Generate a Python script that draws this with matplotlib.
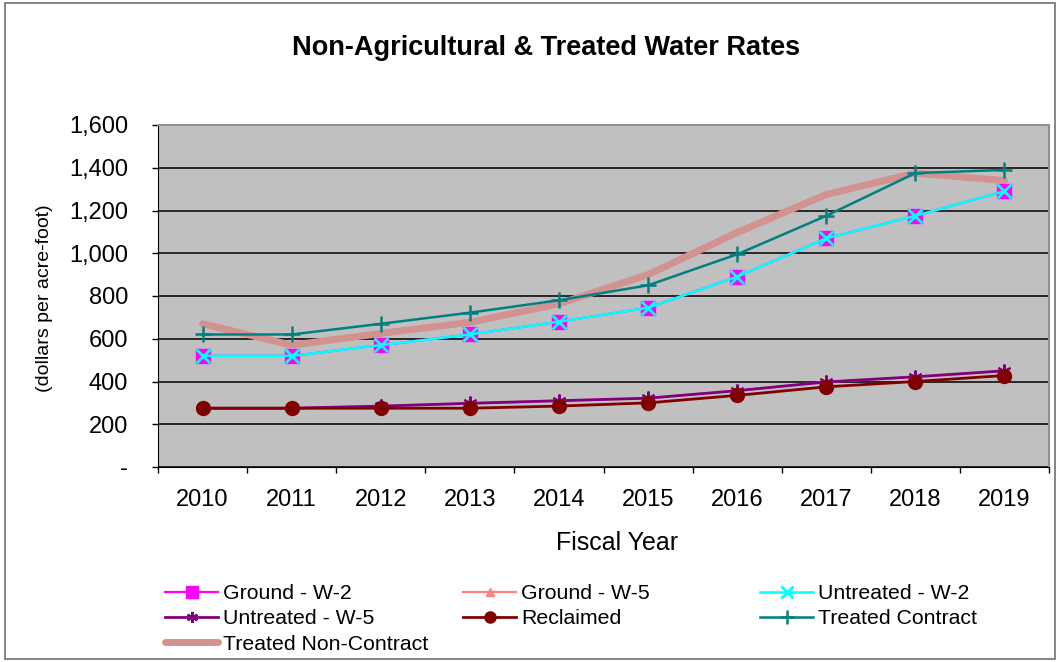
import matplotlib
matplotlib.use("Agg")
import matplotlib.pyplot as plt
from matplotlib.patches import Rectangle
from matplotlib.ticker import FuncFormatter, FixedLocator
import numpy as np

years = ["2010", "2011", "2012", "2013", "2014", "2015", "2016", "2017", "2018", "2019"]

ground_w2 = [520, 520, 570, 620, 680, 745, 890, 1070, 1175, 1290]
ground_w5 = [275, 275, 285, 298, 310, 322, 357, 398, 422, 450]
untreated_w2 = [520, 520, 570, 620, 680, 745, 890, 1070, 1175, 1290]
untreated_w5 = [275, 275, 285, 298, 310, 322, 357, 398, 422, 450]
reclaimed = [275, 275, 275, 275, 285, 300, 335, 375, 400, 428]
treated_contract = [620, 620, 670, 722, 780, 850, 995, 1175, 1375, 1390]
treated_noncontract = [670, 570, 625, 677, 763, 900, 1097, 1275, 1375, 1340]

plt.rcParams['font.family'] = ['Liberation Sans', 'DejaVu Sans']

fig = plt.figure(figsize=(10.6, 6.62), dpi=100)
W, H = 1060, 662
ax = fig.add_axes([158 / W, 1 - 467 / H, (1049 - 158) / W, (467 - 125) / H])
ax.set_facecolor('#C0C0C0')

x = np.arange(len(years))
ms = 10
lines = {}
lines['Ground - W-5'] = ax.plot(x, ground_w5, color='#FF8080', lw=1.6, marker='^', ms=7, zorder=2)[0]
lines['Ground - W-2'] = ax.plot(x, ground_w2, color='#FF00FF', lw=1.6, marker='s', ms=ms, zorder=3)[0]
lines['Untreated - W-2'] = ax.plot(x, untreated_w2, color='#00FFFF', lw=1.8, marker='x', ms=ms, mew=2, zorder=4)[0]
lines['Untreated - W-5'] = ax.plot(x, untreated_w5, color='#800080', lw=2, marker=(6, 2, 0), ms=ms, mew=1.5, zorder=4)[0]
lines['Reclaimed'] = ax.plot(x, reclaimed, color='#800000', lw=2, marker='o', ms=ms, zorder=5)[0]
lines['Treated Contract'] = ax.plot(x, treated_contract, color='#008080', lw=1.8, marker='+', ms=12, mew=1.8, zorder=5)[0]
lines['Treated Non-Contract'] = ax.plot(x, treated_noncontract, color='#D29290', lw=5, solid_capstyle='round', zorder=4.5)[0]

ax.set_xlim(-0.5, len(years) - 0.5)
ax.set_ylim(0, 1600)
ax.set_yticks(np.arange(0, 1601, 200))
ax.yaxis.set_major_formatter(FuncFormatter(lambda v, p: '-' if v == 0 else f'{int(v):,}'))
ax.grid(axis='y', color='black', lw=1.1)
ax.set_axisbelow(True)

ax.set_xticks(x)
ax.set_xticklabels(years)
ax.xaxis.set_minor_locator(FixedLocator(np.arange(-0.5, len(years), 1)))
ax.tick_params(axis='x', which='major', length=0, pad=16, labelsize=17)
ax.tick_params(axis='x', which='minor', length=4.5, direction='out', width=1)
ax.tick_params(axis='y', length=4.5, direction='out', width=1, pad=17, labelsize=17)

for side in ['top', 'right']:
    ax.spines[side].set_color('#909090')
    ax.spines[side].set_linewidth(1.5)
for side in ['left', 'bottom']:
    ax.spines[side].set_color('black')

fig.text(546 / W, 1 - 48 / H, 'Non-Agricultural & Treated Water Rates',
         ha='center', va='center', fontsize=19.5, fontweight='bold')
fig.text(617 / W, 1 - 543 / H, 'Fiscal Year', ha='center', va='center', fontsize=18)
fig.text(45 / W, 1 - 298 / H, '(dollars per acre-foot)', ha='center', va='center',
         rotation=90, fontsize=14)

columns = [
    (165, ['Ground - W-2', 'Untreated - W-5', 'Treated Non-Contract']),
    (463, ['Ground - W-5', 'Reclaimed']),
    (760, ['Untreated - W-2', 'Treated Contract']),
]
for xpos, names in columns:
    leg = fig.legend([lines[n] for n in names], names, loc='upper left',
                     bbox_to_anchor=(xpos / W, 1 - 584 / H), frameon=False,
                     fontsize=15.3, handlelength=2.5, handletextpad=0.25,
                     borderpad=0, borderaxespad=0, labelspacing=0.3, markerscale=0.8)

fig.add_artist(Rectangle((5 / W, 3 / H), 1 - 10 / W, 1 - 6 / H, transform=fig.transFigure,
                         fill=False, edgecolor='#707070', lw=1.2))

fig.savefig('out.png', dpi=100)
